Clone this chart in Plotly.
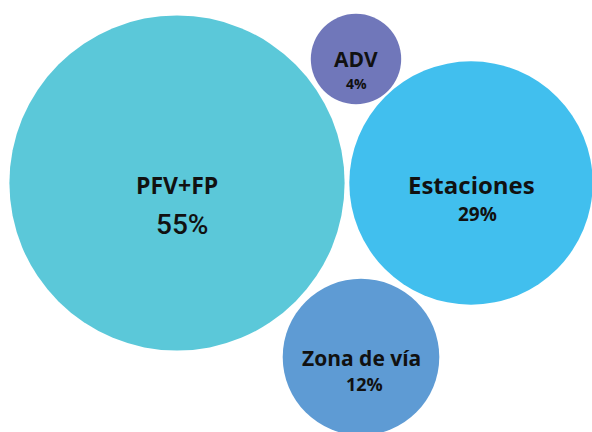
import plotly.graph_objects as go

# bubble data
labels = ["PFV+FP", "ADV", "Estaciones", "Zona de vía"]
shares = [55, 4, 29, 12]
pct_text = ["55%", "4%", "29%", "12%"]
# bubble centres (packed layout, pixel-like coordinates)
pos_x = [177, 356, 471, 361]
pos_y = [183, 59, 183, 357]

colors = ["#5BC8D9", "#7077BA", "#41BFEE", "#5E9BD4"]

# label placement tweaks per bubble
name_dy = [2, 0, 1, 1]
pct_dy = [41, 24, 31, 27]
pct_dx = [5, 0, 6, 3]
name_size = [23, 21, 24, 21]
pct_size = [28, 14, 19, 18]
pct_font = ["Roboto", "Open Sans", "Open Sans", "Open Sans"]
pct_weight = [500, 700, 700, 700]

px_per_sqrt = 22.6  # bubble radius in px per sqrt(share)

fig = go.Figure()

fig.add_trace(go.Scatter(
    x=pos_x,
    y=pos_y,
    mode="markers",
    marker=dict(
        size=shares,
        sizemode="area",
        sizeref=1 / (2 * px_per_sqrt ** 2),
        color=colors,
        opacity=1,
        line=dict(width=0),
    ),
    hoverinfo="skip",
    showlegend=False,
))

for i, name in enumerate(labels):
    fig.add_annotation(
        x=pos_x[i], y=pos_y[i] + name_dy[i],
        text="<b>" + name + "</b>",
        showarrow=False,
        font=dict(family="Open Sans", size=name_size[i], color="#111111", weight=800),
    )
    fig.add_annotation(
        x=pos_x[i] + pct_dx[i], y=pos_y[i] + pct_dy[i],
        text=pct_text[i],
        showarrow=False,
        font=dict(family=pct_font[i], size=pct_size[i], color="#111111", weight=pct_weight[i]),
    )

fig.update_layout(
    width=592,
    height=432,
    margin=dict(t=0, b=0, l=0, r=0),
    plot_bgcolor="white",
    paper_bgcolor="white",
    showlegend=False,
)

fig.update_xaxes(range=[0, 592], visible=False, fixedrange=True)
fig.update_yaxes(range=[432, 0], visible=False, fixedrange=True)

# drop the default page margin so the figure sits at the window corner
fig.write_html("out.html", config={"displayModeBar": False},
               post_script="document.body.style.margin='0';")
